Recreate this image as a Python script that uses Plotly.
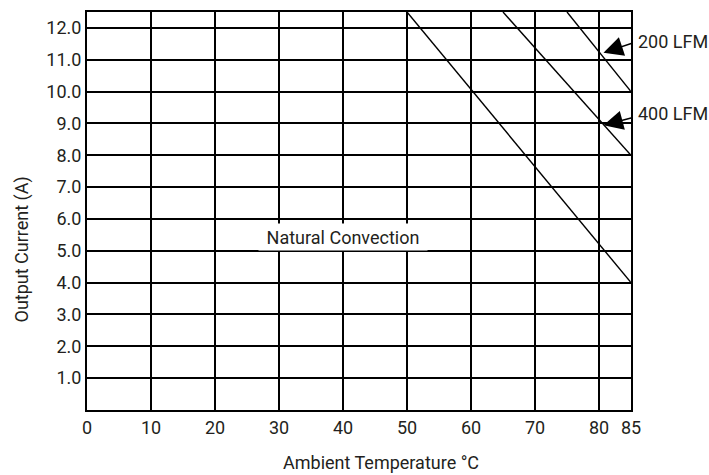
import plotly.graph_objects as go

# Data
nat_x = [50, 85]
nat_y = [12.5, 4.0]
lfm400_x = [65, 85]
lfm400_y = [12.5, 8.0]
lfm200_x = [75, 85]
lfm200_y = [12.5, 10.0]

x_ticks = [0, 10, 20, 30, 40, 50, 60, 70, 80, 85]
y_ticks = [1, 2, 3, 4, 5, 6, 7, 8, 9, 10, 11, 12]
y_ticktext = [f"{v:.1f}" for v in y_ticks]

FONT = "Roboto, sans-serif"
TXT = "#231f20"
FS = 18

fig = go.Figure()
for xs, ys in [(nat_x, nat_y), (lfm400_x, lfm400_y), (lfm200_x, lfm200_y)]:
    fig.add_trace(go.Scatter(x=xs, y=ys, mode="lines",
                             line=dict(color="black", width=1.4),
                             showlegend=False, hoverinfo="skip"))

fig.update_layout(
    width=709, height=475,
    margin=dict(l=87, r=78, t=10, b=65),
    paper_bgcolor="white", plot_bgcolor="white",
    font=dict(family=FONT, size=FS, color=TXT),
    xaxis=dict(range=[0, 85], tickvals=x_ticks, ticks="", showgrid=True,
               gridcolor="black", gridwidth=2, showline=True, linecolor="black",
               linewidth=2, mirror=True, zeroline=False,
               tickfont=dict(family=FONT, size=FS, color=TXT)),
    yaxis=dict(range=[0, 12.5], tickvals=y_ticks, ticktext=y_ticktext, ticks="",
               showgrid=True, gridcolor="black", gridwidth=2, showline=True,
               linecolor="black", linewidth=2, mirror=True, zeroline=False,
               tickfont=dict(family=FONT, size=FS, color=TXT)),
)

# Axis titles as annotations (positioned as in reference)
fig.add_annotation(text="Ambient Temperature °C", xref="paper", yref="paper",
                   x=(381 - 87) / 544, y=-(463 - 410.5) / 400.5, showarrow=False,
                   xanchor="center", yanchor="middle",
                   font=dict(family=FONT, size=FS, color=TXT))
fig.add_annotation(text="Output Current (A)", xref="paper", yref="paper",
                   x=-(87 - 22) / 544, y=(410.5 - 249) / 400.5, showarrow=False,
                   textangle=-90, xanchor="center", yanchor="middle",
                   font=dict(family=FONT, size=FS, color=TXT))

# Natural convection label with white box
fig.add_annotation(text="Natural Convection", x=40, y=5.42, showarrow=False,
                   bgcolor="white", borderpad=0, width=168, height=26,
                   font=dict(family=FONT, size=FS, color=TXT))

# LFM labels
fig.add_annotation(text="200 LFM", xref="paper", yref="paper",
                   x=(636 - 87) / 544, y=(410.5 - 40) / 400.5, showarrow=False,
                   xanchor="left", yanchor="middle",
                   font=dict(family=FONT, size=FS, color=TXT))
fig.add_annotation(text="400 LFM", xref="paper", yref="paper",
                   x=(636 - 87) / 544, y=(410.5 - 112) / 400.5, showarrow=False,
                   xanchor="left", yanchor="middle",
                   font=dict(family=FONT, size=FS, color=TXT))

# Arrows
for tip_y, ay in [(11.22, -10), (8.94, -8)]:
    fig.add_annotation(text="", x=80.7, y=tip_y, ax=30, ay=ay, showarrow=True,
                       arrowhead=2, arrowsize=2.6, arrowwidth=1.5, arrowcolor="black")

fig.write_html("out.html")
